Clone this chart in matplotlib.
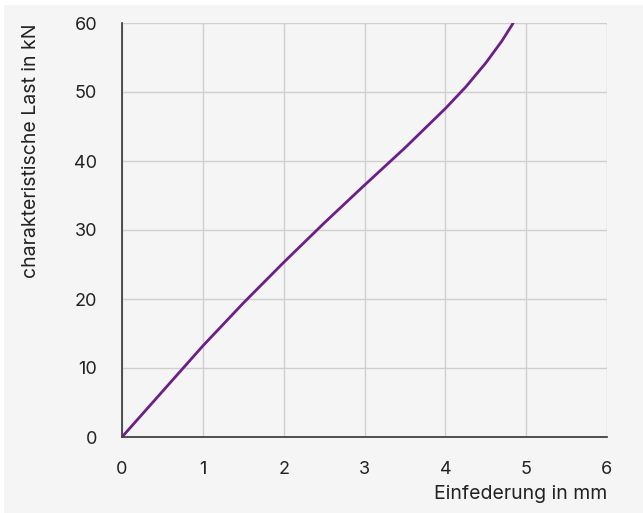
import matplotlib.pyplot as plt
import matplotlib.patches as patches

# Einfederung (mm) vs charakteristische Last (kN)
deflection = [0, 0.5, 1.0, 1.5, 2.0, 2.5, 3.0, 3.5, 4.0, 4.25, 4.5, 4.7, 4.84]
load = [0, 6.6, 13.2, 19.4, 25.3, 31.0, 36.5, 41.9, 47.6, 50.7, 54.2, 57.4, 60.0]

x_ticks = [0, 1, 2, 3, 4, 5, 6]
y_ticks = [0, 10, 20, 30, 40, 50, 60]

plt.rcParams['font.family'] = ['Inter', 'DejaVu Sans']

fig = plt.figure(figsize=(6.43, 5.13), dpi=100)
fig.patch.set_facecolor('white')
fig.patches.append(patches.Rectangle((0.006, 0.0), 0.994, 0.99, transform=fig.transFigure,
                                     facecolor='#f5f5f5', edgecolor='none', zorder=-10))

ax = fig.add_axes([122 / 643, 1 - 437 / 513, (607 - 122) / 643, (437 - 23) / 513])
ax.set_facecolor('#f5f5f5')

ax.plot(deflection, load, color='#6b1f87', linewidth=2.0, zorder=3,
        solid_joinstyle='round', solid_capstyle='round')

ax.set_xlim(0, 6)
ax.set_ylim(0, 60)
ax.set_xticks(x_ticks)
ax.set_yticks(y_ticks)
ax.grid(True, color='#cfcfcf', linewidth=1)
ax.set_axisbelow(True)

for s in ['top', 'right']:
    ax.spines[s].set_visible(False)
for s in ['left', 'bottom']:
    ax.spines[s].set_color('#333333')
    ax.spines[s].set_linewidth(1.2)

ax.tick_params(length=0, labelsize=13, colors='#222222')
ax.tick_params(axis='x', pad=17)
ax.tick_params(axis='y', pad=18)

ax.set_ylabel('charakteristische Last in kN', fontsize=14, color='#222222', loc='top')
ax.yaxis.set_label_coords(-82 / 485, 1.0)
ax.set_xlabel('Einfederung in mm', fontsize=14, color='#222222', loc='right')
ax.xaxis.set_label_coords(1.0, -48 / 414)

plt.savefig('out.png', dpi=100)
